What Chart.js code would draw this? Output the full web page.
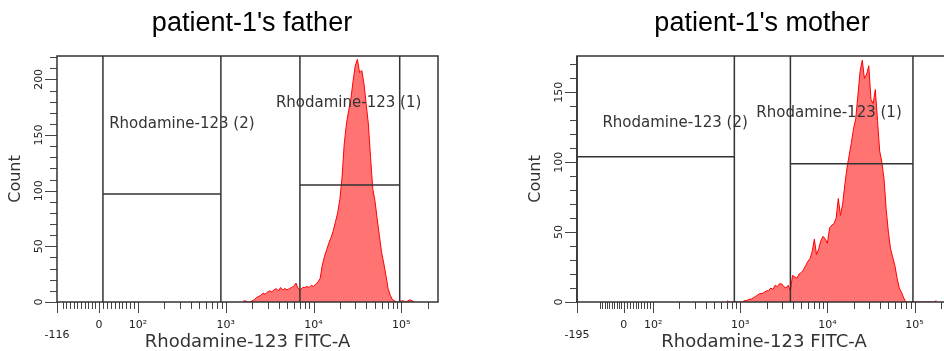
<!DOCTYPE html>
<html>
<head>
<meta charset="utf-8">
<script src="https://cdn.jsdelivr.net/npm/chart.js@4.4.0/dist/chart.umd.min.js"></script>
<style>
  html, body { margin: 0; padding: 0; background: #fff; overflow: hidden; }
  body { width: 944px; height: 351px; position: relative; }
  #father { position: absolute; left: 0; top: 0; }
  #mother { position: absolute; left: 520px; top: 0; }
</style>
</head>
<body>
<canvas id="father" width="504" height="351"></canvas>
<canvas id="mother" width="484" height="351"></canvas>
<script>
// histogram bins live in display decades: 10^k sits at k, below 100 the axis is linear
var binWidth = 0.025;

var fatherStart = 3.2;
var fatherCounts = [
  1, 1, 0, 0, 1, 2, 4, 5, 6, 8, 7, 9, 10, 9, 11, 12, 10, 13, 11, 12,
  11, 12, 13, 14, 17, 12, 11, 13, 13, 14, 13, 15, 14, 16, 18, 21, 33, 41, 47, 53,
  58, 64, 72, 80, 92, 112, 142, 160, 172, 182, 198, 212, 218, 206, 208, 196, 178, 160, 130, 102,
  91, 75, 60, 45, 35, 24, 12, 6, 2, 1, 0, 0, 1, 1, 0, 1, 2, 1, 0
];

var motherStart = 2.85;
var motherCounts = [
  1, 0, 0, 0, 0, 0, 0, 0, 1, 1, 2, 2, 3, 4, 5, 6, 6, 7, 8, 8,
  10, 9, 12, 11, 13, 13, 11, 10, 12, 8, 19, 18, 17, 20, 21, 23, 26, 29, 31, 36,
  45, 34, 38, 44, 47, 45, 42, 53, 55, 56, 60, 74, 62, 70, 84, 96, 105, 114, 124, 131,
  148, 165, 173, 160, 163, 169, 145, 142, 152, 130, 108, 100, 88, 66, 50, 38, 32, 26, 17, 10,
  7, 3, 0, 0, 0, 0, 0, 0, 0, 0, 0, 0, 0, 0, 0, 0, 1
];

var tickValues = [0, 100, 1000, 10000, 100000];
var tickLabels = ['0', '10²', '10³', '10⁴', '10⁵'];
var axisTop = 262144;

var fatherMin = -116;
var motherMin = -195;
var fatherYMax = 221;
var motherYMax = 176;
var fatherYTicks = [0, 50, 100, 150, 200];
var motherYTicks = [0, 50, 100, 150];

// gates: [low, high, count level]
var fatherGates = [[10, 880, 97], [7000, 96000, 105]];
var motherGates = [[-195, 855, 104], [3760, 95900, 99]];
// gate names: [text, value, count]
var fatherGateNames = [['Rhodamine-123 (2)', 26, 160], ['Rhodamine-123 (1)', 3730, 179]];
var motherGateNames = [['Rhodamine-123 (2)', -89, 128], ['Rhodamine-123 (1)', 1530, 135]];

function makeTransform(minVal, zeroU, minU) {
  return function (v) {
    if (v >= 100) return Math.log10(v);
    if (v >= 0) return zeroU + (2 - zeroU) * v / 100;
    return zeroU + (zeroU - minU) * v / (-minVal);
  };
}

function decorPlugin(o) {
  return {
    id: 'flowDecor',
    afterDatasetsDraw: function (chart) {
      var ctx = chart.ctx, xs = chart.scales.x, ys = chart.scales.y, a = chart.chartArea;
      ctx.save();
      ctx.strokeStyle = '#333';
      ctx.lineWidth = 1.5;
      o.gates.forEach(function (g) {
        var x1 = xs.getPixelForValue(o.tf(g[0]));
        var x2 = xs.getPixelForValue(o.tf(g[1]));
        var y = ys.getPixelForValue(g[2]);
        ctx.beginPath();
        ctx.moveTo(x1, a.top); ctx.lineTo(x1, a.bottom);
        ctx.moveTo(x2, a.top); ctx.lineTo(x2, a.bottom);
        ctx.moveTo(x1, y); ctx.lineTo(x2, y);
        ctx.stroke();
      });
      ctx.fillStyle = '#333';
      ctx.font = '15px "DejaVu Sans"';
      ctx.textAlign = 'left';
      ctx.textBaseline = 'middle';
      o.names.forEach(function (n) {
        ctx.fillText(n[0], xs.getPixelForValue(o.tf(n[1])), ys.getPixelForValue(n[2]));
      });
      ctx.restore();
    },
    afterDraw: function (chart) {
      var ctx = chart.ctx, xs = chart.scales.x, ys = chart.scales.y, a = chart.chartArea;
      ctx.save();
      ctx.strokeStyle = '#444';
      ctx.lineWidth = 1;
      ctx.beginPath();
      // x ticks
      o.majors.forEach(function (v) {
        var px = Math.round(xs.getPixelForValue(o.tf(v))) + 0.5;
        ctx.moveTo(px, a.bottom); ctx.lineTo(px, a.bottom + 11);
      });
      o.minors.forEach(function (v) {
        var px = Math.round(xs.getPixelForValue(o.tf(v))) + 0.5;
        ctx.moveTo(px, a.bottom); ctx.lineTo(px, a.bottom + 7);
      });
      // y ticks
      for (var c = 0; c <= o.yMax; c += 10) {
        var py = Math.round(ys.getPixelForValue(c)) + 0.5;
        var len = c % 50 === 0 ? 12 : 7;
        ctx.moveTo(a.left, py); ctx.lineTo(a.left - len, py);
      }
      ctx.stroke();

      ctx.strokeStyle = '#333';
      ctx.lineWidth = 1.5;
      ctx.strokeRect(a.left, a.top, a.right - a.left, a.bottom - a.top);

      ctx.fillStyle = '#222';
      ctx.font = '11px "DejaVu Sans"';
      ctx.textAlign = 'center';
      ctx.textBaseline = 'middle';
      o.yTicks.forEach(function (v) {
        ctx.save();
        ctx.translate(a.left - 18, ys.getPixelForValue(v));
        ctx.rotate(-Math.PI / 2);
        ctx.fillText(String(v), 0, 0);
        ctx.restore();
      });
      ctx.restore();
    }
  };
}

function makeChart(id, o) {
  var tf = makeTransform(o.min, o.zeroU, o.minU);
  var points = o.counts.map(function (c, i) {
    return { x: o.start + i * binWidth, y: c };
  });
  var majors = [o.min].concat(tickValues);
  var labels = [['', String(o.min)]].concat(tickLabels);
  var minors = [];
  for (var m = -100; m < 100; m += 10) {
    if (m !== 0 && m > o.min) minors.push(m);
  }
  [100, 1000, 10000, 100000].forEach(function (d) {
    for (var k = 2; k <= 9; k++) {
      if (d * k < axisTop) minors.push(d * k);
    }
  });

  return new Chart(document.getElementById(id), {
    type: 'line',
    data: {
      datasets: [{
        data: points,
        yAxisID: 'y',
        borderColor: '#ff0000',
        borderWidth: 1,
        backgroundColor: 'rgba(255, 0, 0, 0.55)',
        fill: 'origin',
        pointRadius: 0,
        tension: 0
      }]
    },
    options: {
      responsive: false,
      animation: false,
      devicePixelRatio: 1,
      layout: { padding: 0 },
      plugins: {
        legend: { display: false },
        tooltip: { enabled: false },
        title: {
          display: true,
          text: o.title,
          color: '#000',
          font: { family: '"Liberation Sans", Arial', size: 27, weight: 'normal', lineHeight: 1 },
          padding: { top: 10, bottom: 19 }
        }
      },
      scales: {
        x: {
          type: 'linear',
          min: tf(o.min),
          max: Math.log10(axisTop),
          grid: { display: false, drawTicks: false },
          border: { display: false },
          afterBuildTicks: function (s) {
            s.ticks = majors.map(function (v) { return { value: tf(v) }; });
          },
          afterFit: function (s) { s.height = 49; },
          ticks: {
            autoSkip: false,
            maxRotation: 0,
            padding: 18,
            color: '#222',
            font: { family: '"DejaVu Sans"', size: 11, lineHeight: 0.9 },
            callback: function (v, i) { return labels[i]; }
          },
          title: {
            display: true,
            text: 'Rhodamine-123 FITC-A',
            color: '#333',
            font: { family: '"DejaVu Sans"', size: 18, lineHeight: 1 },
            padding: 0
          }
        },
        y: {
          min: 0,
          max: o.yMax,
          grid: { display: false, drawTicks: false },
          border: { display: false },
          ticks: { display: false },
          afterFit: function (s) { s.width = 57; },
          title: {
            display: true,
            text: 'Count',
            color: '#333',
            font: { family: '"DejaVu Sans"', size: 16, lineHeight: 1 },
            padding: { top: 8, bottom: 0 }
          }
        },
        // empty right-hand axis, only keeps space so the title centres on the whole panel
        side: {
          position: 'right',
          min: 0,
          max: o.yMax,
          grid: { display: false, drawTicks: false },
          border: { display: false },
          ticks: { display: false },
          afterFit: function (s) { s.width = o.padRight; }
        }
      }
    },
    plugins: [decorPlugin({
      tf: tf, gates: o.gates, names: o.names, majors: majors, minors: minors,
      yMax: o.yMax, yTicks: o.yTicks
    })]
  });
}

makeChart('father', {
  title: "patient-1's father",
  min: fatherMin, zeroU: 1.556, minU: 1.077,
  start: fatherStart, counts: fatherCounts,
  yMax: fatherYMax, yTicks: fatherYTicks,
  gates: fatherGates, names: fatherGateNames,
  padRight: 66
});

makeChart('mother', {
  title: "patient-1's mother",
  min: motherMin, zeroU: 1.663, minU: 1.126,
  start: motherStart, counts: motherCounts,
  yMax: motherYMax, yTicks: motherYTicks,
  gates: motherGates, names: motherGateNames,
  padRight: 53
});
</script>
</body>
</html>
